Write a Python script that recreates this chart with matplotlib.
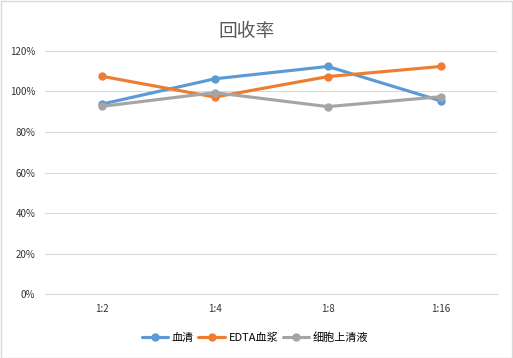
import matplotlib
matplotlib.use("Agg")
import matplotlib.pyplot as plt
from matplotlib.ticker import FuncFormatter

plt.rcParams['font.family'] = ['Noto Sans CJK SC', 'DejaVu Sans']

categories = ["1:2", "1:4", "1:8", "1:16"]
serum = [93.7, 106.2, 112.3, 95.3]
edta = [107.5, 97.2, 107.3, 112.3]
cell = [92.6, 99.4, 92.5, 97.4]
series_names = ["血清", "EDTA血浆", "细胞上清液"]
colors = ["#5B9BD5", "#ED7D31", "#A5A5A5"]

fig = plt.figure(figsize=(5.13, 3.58), dpi=100)
fig.patches.append(plt.Rectangle((0.001, 0.001), 0.997, 0.996, transform=fig.transFigure,
                                 fill=False, edgecolor="#D9D9D9", linewidth=1))
ax = fig.add_axes([0.0877, 0.178, 0.882, 0.680])

x = range(len(categories))
for vals, name, c in zip([serum, edta, cell], series_names, colors):
    ax.plot(x, vals, color=c, linewidth=2.25, marker='o', markersize=5, label=name,
            solid_capstyle='round')

ax.set_xlim(-0.5, len(categories) - 0.5)
ax.set_ylim(0, 120)
ax.set_yticks(range(0, 121, 20))
ax.yaxis.set_major_formatter(FuncFormatter(lambda v, p: f"{int(v)}%"))
ax.set_xticks(list(x))
ax.set_xticklabels(categories)
ax.grid(axis='y', color="#D9D9D9", linewidth=0.75)
ax.set_axisbelow(True)
for s in ["top", "right", "left"]:
    ax.spines[s].set_visible(False)
ax.spines["bottom"].set_color("#D9D9D9")
ax.tick_params(axis='both', length=0, labelsize=7, labelcolor="#333333", pad=7)

fig.text(0.4805, 0.912, "回收率", ha='center', va='center', fontsize=13.5, color="#595959")
fig.legend(loc='center', bbox_to_anchor=(0.497, 0.058), ncol=3, frameon=False,
           fontsize=8, handlelength=2.4, columnspacing=0.4, handletextpad=0.3,
           labelcolor="#000000")

fig.savefig("out.png", dpi=100)
